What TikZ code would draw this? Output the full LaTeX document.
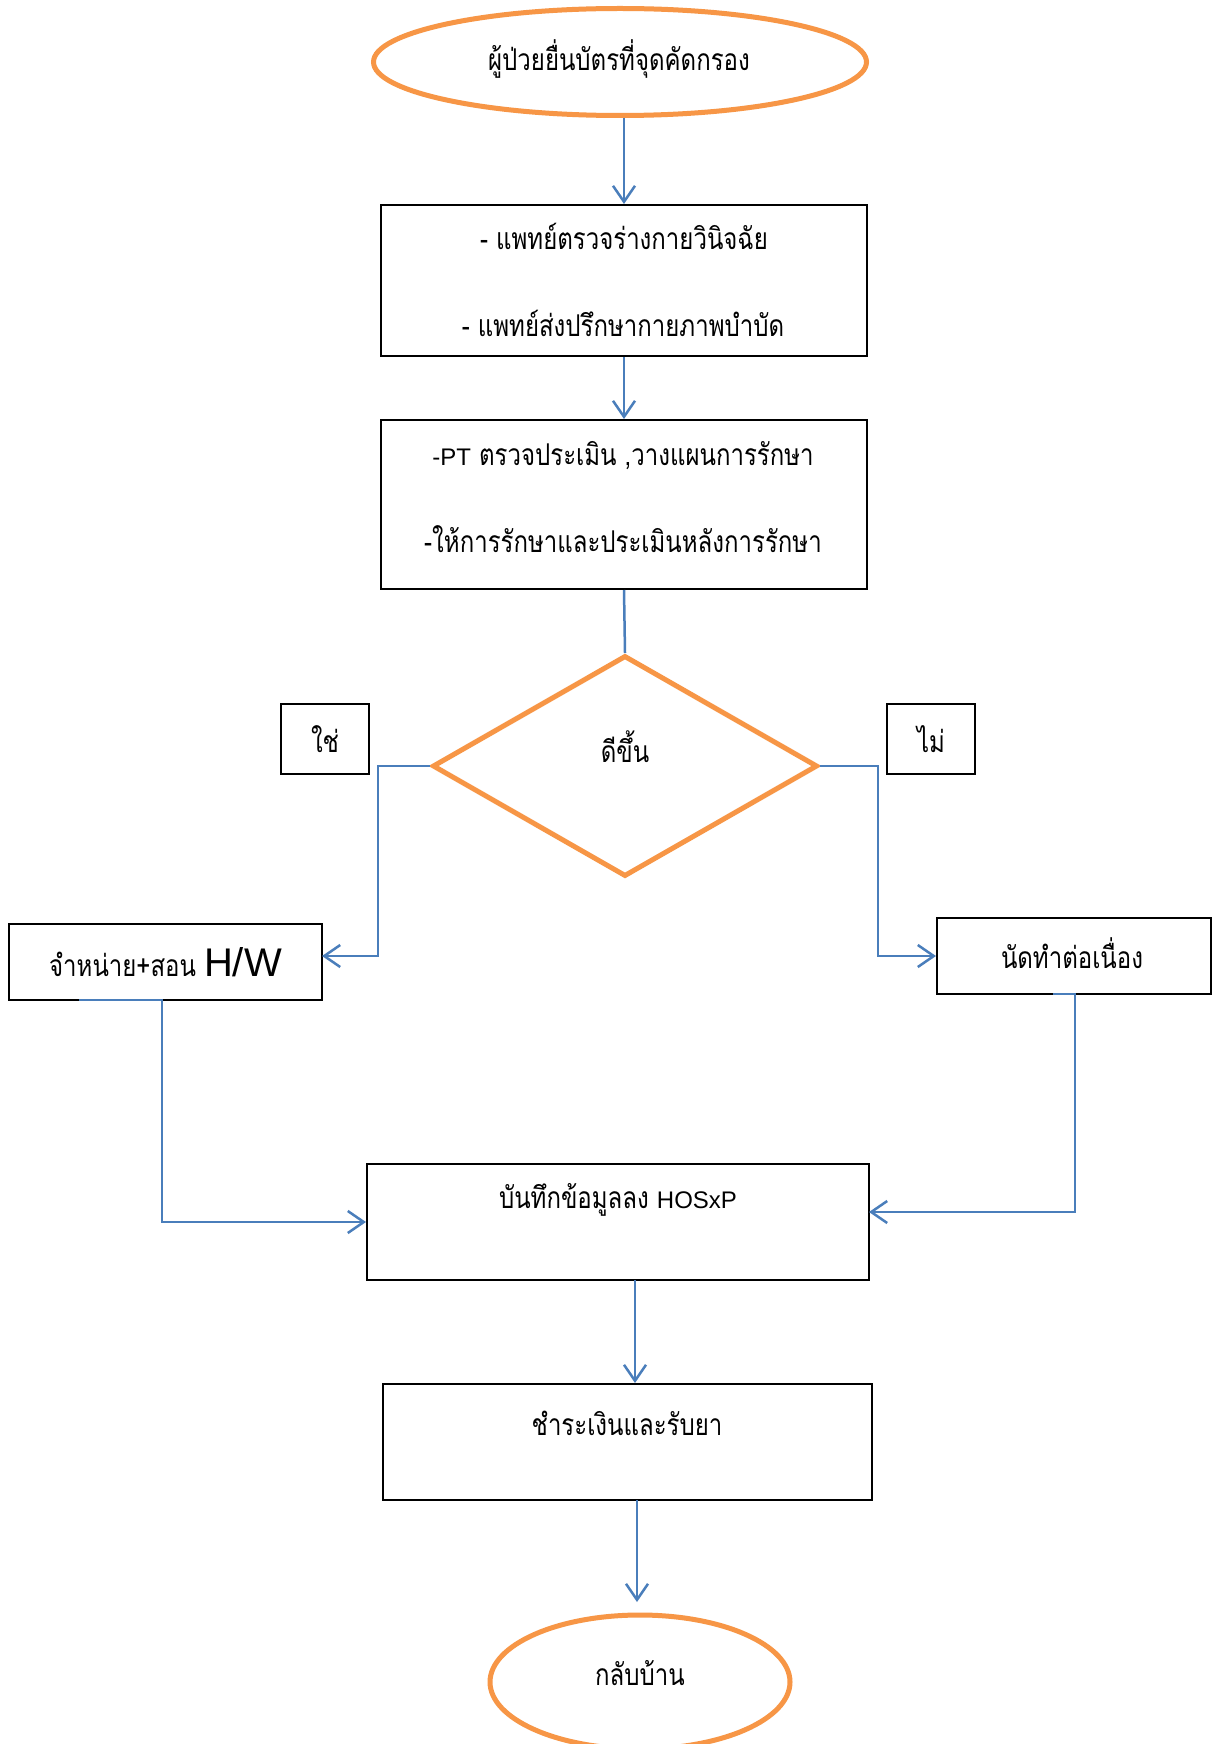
\documentclass[tikz,border=0pt]{standalone}
\usepackage{fontspec}
\usetikzlibrary{arrows.meta,shapes.geometric}
\newfontfamily\thaifont[Script=Thai,FakeStretch=0.8]{Loma}
\newfontfamily\latinfont{Liberation Sans}
\newcommand{\lat}[1]{{\latinfont #1}}
\definecolor{orng}{HTML}{F79646}
\definecolor{blu}{HTML}{4A7EBB}
\tikzset{
  box/.style={draw=black, line width=2pt, inner sep=0pt},
  term/.style={ellipse, draw=orng, line width=5pt, inner sep=0pt},
  decide/.style={diamond, draw=orng, line width=5pt, inner sep=0pt},
  txt/.style={inner sep=0pt, font=\thaifont\fontsize{30}{34}\selectfont},
  conn/.style={draw=blu, line width=2.5pt},
  arr/.style={conn, -{Straight Barb[length=16pt,width=22pt,line width=2.5pt]}}
}
\begin{document}
\begin{tikzpicture}[x=1pt,y=-1pt]
\useasboundingbox (0,0) rectangle (1212,1744);
\fill[white] (0,0) rectangle (1212,1744);
% shapes
\node[term, minimum width=493, minimum height=107] (start) at (620,62) {};
\node[box, minimum width=486, minimum height=151] (b1) at (624,280.5) {};
\node[box, minimum width=486, minimum height=169] (b2) at (624,504.5) {};
\node[decide, minimum width=385, minimum height=221] (dia) at (625,766) {};
\node[box, minimum width=88, minimum height=70, txt] (yes) at (325,739) {ใช่};
\node[box, minimum width=88, minimum height=70, txt] (no) at (931,739) {ไม่};
\node[box, minimum width=313, minimum height=76, txt] (left) at (165.5,962) {จำหน่าย+สอน \lat{\fontsize{40}{44}\selectfont H/W}};
\node[box, minimum width=274, minimum height=76] (right) at (1074,956) {};
\node[box, minimum width=502, minimum height=116] (b3) at (618,1222) {};
\node[box, minimum width=489, minimum height=116] (b4) at (627.5,1442) {};
\node[term, minimum width=300, minimum height=134] (end) at (640,1682) {};
% texts
\node[txt] (t0) at (619,59) {ผู้ป่วยยื่นบัตรที่จุดคัดกรอง};
\node[txt] (t1a) at (624,236) {- แพทย์ตรวจร่างกายวินิจฉัย};
\node[txt] (t1b) at (623,323) {- แพทย์ส่งปรึกษากายภาพบำบัด};
\node[txt] (t2a) at (623,456) {\lat{\fontsize{24}{28}\selectfont -PT} ตรวจประเมิน ,วางแผนการรักษา};
\node[txt] (t2b) at (623,539) {-ให้การรักษาและประเมินหลังการรักษา};
\node[txt] (td) at (625,747) {ดีขึ้น};
\node[txt] (tr) at (1072,953) {นัดทำต่อเนื่อง};
\node[txt] (t3) at (618,1200) {บันทึกข้อมูลลง \lat{\fontsize{24}{28}\selectfont HOSxP}};
\node[txt] (t4) at (627,1423) {ชำระเงินและรับยา};
\node[txt] (t5) at (640,1673) {กลับบ้าน};
% coordinates
\coordinate (lb) at (79,1000);
\coordinate (le) at (322,956);
\coordinate (rb) at (1053,994);
\coordinate (b3r) at (869,1212);
\coordinate (a3) at (635,1280);
\coordinate (a4) at (637,1500);
\coordinate (a5) at (637,1602);
% connectors
\draw[arr] (b1.north |- start.south) -- (b1.north);
\draw[arr] (b1.south) -- (b2.north);
\draw[conn] (b2.south) -- (dia.north);
\draw[arr] (dia.west) -- (378,766) |- (le);
\draw[arr] (dia.east) -- (878,766) |- (right.west);
\draw[arr] (lb) -- (162,1000) |- (b3.west);
\draw[arr] (rb) -- (1075,994) |- (b3r);
\draw[arr] (a3) -- (a3 |- b4.north);
\draw[arr] (a4) -- (a5);
\end{tikzpicture}
\end{document}
